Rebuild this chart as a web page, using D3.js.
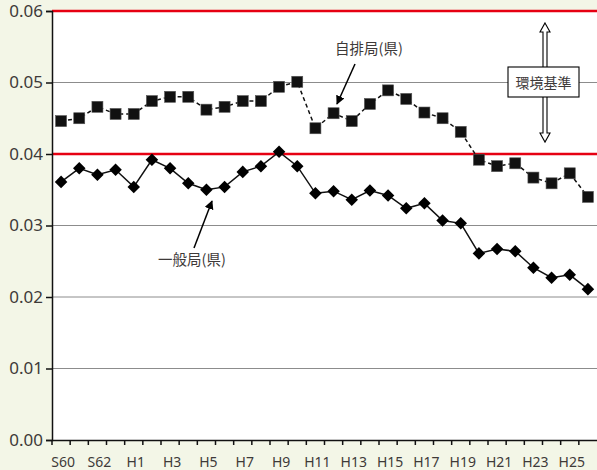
<!DOCTYPE html>
<html>
<head>
<meta charset="utf-8">
<script src="https://cdn.jsdelivr.net/npm/d3@7"></script>
<style>
  body { margin: 0; background: #f3f6e7; }
  svg { display: block; }
  .tick text { fill: #3e3a39; }
</style>
</head>
<body>
<div id="chart"></div>
<script>
// fiscal years (Showa 60 .. Heisei 26)
const years = ["S60","S61","S62","S63"].concat(d3.range(1, 27).map(d => "H" + d));
const xLabels = ["S60","S62","H1","H3","H5","H7","H9","H11","H13","H15","H17","H19","H21","H23","H25"];

// 一般局(県)
const ippan = [0.0361, 0.0380, 0.0371, 0.0378, 0.0354, 0.0392, 0.0380, 0.0359, 0.0350, 0.0354,
               0.0375, 0.0383, 0.0403, 0.0383, 0.0345, 0.0348, 0.0336, 0.0349, 0.0342, 0.0324,
               0.0331, 0.0307, 0.0303, 0.0261, 0.0267, 0.0264, 0.0241, 0.0227, 0.0231, 0.0211];
// 自排局(県)
const jihai = [0.0446, 0.0450, 0.0466, 0.0456, 0.0456, 0.0474, 0.0480, 0.0480, 0.0462, 0.0466,
               0.0474, 0.0474, 0.0494, 0.0501, 0.0436, 0.0457, 0.0446, 0.0470, 0.0489, 0.0477,
               0.0458, 0.0450, 0.0431, 0.0392, 0.0383, 0.0387, 0.0367, 0.0359, 0.0373, 0.0340];

const yTicks = [0, 0.01, 0.02, 0.03, 0.04, 0.05, 0.06];
const standardLines = [0.04, 0.06];

const W = 597, H = 470;
const margin = {top: 11, right: 0, bottom: 30, left: 52};
const width = W - margin.left - margin.right;
const height = H - margin.top - margin.bottom;

const svg = d3.select("#chart").append("svg")
    .attr("width", W).attr("height", H);

const g = svg.append("g")
    .attr("transform", "translate(" + margin.left + "," + margin.top + ")");

const x = d3.scaleBand().domain(years).range([0, width]);
const y = d3.scaleLinear().domain([0, 0.06]).range([height, 0]);
const cx = d => x(d) + x.bandwidth() / 2;

// plot area
g.append("rect").attr("width", width).attr("height", height).attr("fill", "#fff");

// grid lines
g.selectAll(".grid").data(yTicks.filter(d => d > 0 && standardLines.indexOf(d) < 0))
  .enter().append("line")
    .attr("x1", 0).attr("x2", width)
    .attr("y1", d => y(d)).attr("y2", d => y(d))
    .attr("stroke", "#8c8c8c").attr("stroke-width", 1);

// environmental standard lines
g.selectAll(".std").data(standardLines)
  .enter().append("line")
    .attr("x1", 0).attr("x2", width)
    .attr("y1", d => y(d)).attr("y2", d => y(d))
    .attr("stroke", "#e60012").attr("stroke-width", 2.5);

// axes
const yAxis = g.append("g")
    .call(d3.axisLeft(y).tickValues(yTicks).tickFormat(d3.format(".2f")).tickSize(6).tickPadding(3));
yAxis.select(".domain").attr("stroke", "#111").attr("stroke-width", 1.5);
yAxis.selectAll(".tick line").attr("stroke", "#111").attr("stroke-width", 1.5);
yAxis.selectAll("text").attr("font-family", "'Noto Sans', sans-serif").attr("font-size", 17);

const xAxis = g.append("g")
    .attr("transform", "translate(0," + height + ")")
    .call(d3.axisBottom(x).tickValues([]).tickSizeOuter(0));
xAxis.select(".domain").attr("stroke", "#111").attr("stroke-width", 1.5);

// ticks at band boundaries
xAxis.selectAll(".bt").data(years.slice(1))
  .enter().append("line")
    .attr("x1", d => x(d)).attr("x2", d => x(d))
    .attr("y1", 0).attr("y2", 5)
    .attr("stroke", "#111").attr("stroke-width", 1.5);
xAxis.append("line").attr("x1", 0).attr("x2", 0).attr("y1", 0).attr("y2", 5)
    .attr("stroke", "#111").attr("stroke-width", 1.5);

xAxis.selectAll(".xl").data(xLabels)
  .enter().append("text")
    .attr("x", d => cx(d) + 2)
    .attr("y", 27)
    .attr("text-anchor", "middle")
    .attr("fill", "#3e3a39")
    .attr("font-family", "'Noto Sans', sans-serif")
    .attr("font-size", 14)
    .text(d => d);

// series lines
const line = d3.line().x((d, i) => cx(years[i])).y(d => y(d));

g.append("path").datum(jihai)
    .attr("d", line).attr("fill", "none")
    .attr("stroke", "#111").attr("stroke-width", 1.5)
    .attr("stroke-dasharray", "4,3");

g.append("path").datum(ippan)
    .attr("d", line).attr("fill", "none")
    .attr("stroke", "#111").attr("stroke-width", 1.5);

// markers
g.selectAll(".sq").data(jihai)
  .enter().append("rect")
    .attr("x", (d, i) => cx(years[i]) - 5.5)
    .attr("y", d => y(d) - 5.5)
    .attr("width", 11).attr("height", 11)
    .attr("fill", "#111").attr("stroke", "#555").attr("stroke-width", 0.6);

g.selectAll(".dm").data(ippan)
  .enter().append("path")
    .attr("d", d3.symbol(d3.symbolDiamond2, 100))
    .attr("transform", (d, i) => "translate(" + cx(years[i]) + "," + y(d) + ")")
    .attr("fill", "#000");

// annotations
const defs = svg.append("defs");
defs.append("marker")
    .attr("id", "ah").attr("viewBox", "0 0 10 10")
    .attr("refX", 9).attr("refY", 5)
    .attr("markerWidth", 9).attr("markerHeight", 9)
    .attr("markerUnits", "userSpaceOnUse")
    .attr("orient", "auto")
  .append("path").attr("d", "M0,0 L10,5 L0,10 z").attr("fill", "#000");

const jp = "'Noto Sans CJK JP', sans-serif";

svg.append("text").attr("x", 369).attr("y", 54).attr("text-anchor", "middle")
    .attr("font-family", jp).attr("font-size", 14.5).attr("fill", "#3e3a39").text("自排局(県)");
svg.append("line").attr("x1", 355).attr("y1", 64).attr("x2", 337).attr("y2", 104)
    .attr("stroke", "#000").attr("stroke-width", 1.5).attr("marker-end", "url(#ah)");

svg.append("text").attr("x", 192).attr("y", 265).attr("text-anchor", "middle")
    .attr("font-family", jp).attr("font-size", 14.5).attr("fill", "#3e3a39").text("一般局(県)");
svg.append("line").attr("x1", 194).attr("y1", 248).attr("x2", 212).attr("y2", 201)
    .attr("stroke", "#000").attr("stroke-width", 1.5).attr("marker-end", "url(#ah)");

// double hollow arrow for 環境基準
const arrX = 545, arrTop = 23, arrBot = 142, hw = 5, sw = 2, hh = 9;
svg.append("path")
    .attr("d", [
      "M", arrX, arrTop,
      "L", arrX + hw, arrTop + hh, "L", arrX + sw, arrTop + hh,
      "L", arrX + sw, arrBot - hh, "L", arrX + hw, arrBot - hh,
      "L", arrX, arrBot,
      "L", arrX - hw, arrBot - hh, "L", arrX - sw, arrBot - hh,
      "L", arrX - sw, arrTop + hh, "L", arrX - hw, arrTop + hh, "Z"].join(" "))
    .attr("fill", "#fff").attr("stroke", "#000").attr("stroke-width", 1.1);

svg.append("rect").attr("x", 508).attr("y", 67).attr("width", 71).attr("height", 30)
    .attr("fill", "#fff").attr("stroke", "#000").attr("stroke-width", 1.1);
svg.append("text").attr("x", 543.5).attr("y", 87.5).attr("text-anchor", "middle")
    .attr("font-family", jp).attr("font-size", 14).attr("fill", "#3e3a39").text("環境基準");
</script>
</body>
</html>
